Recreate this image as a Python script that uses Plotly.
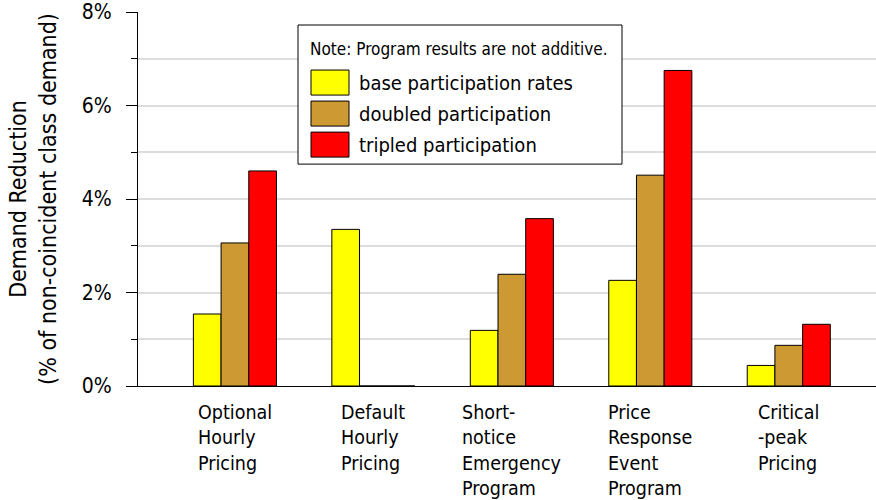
import plotly.graph_objects as go

categories = ["Optional<br>Hourly<br>Pricing", "Default<br>Hourly<br>Pricing",
              "Short-<br>notice<br>Emergency<br>Program", "Price<br>Response<br>Event<br>Program",
              "Critical<br>-peak<br>Pricing"]
base = [0.0154, 0.0335, 0.0119, 0.0226, 0.0044]
doubled = [0.0306, 0.0, 0.0239, 0.0451, 0.0087]
tripled = [0.0460, 0.0, 0.0358, 0.0675, 0.0132]
series_names = ["base participation rates", "doubled participation", "tripled participation"]
series_colors = ["#ffff00", "#cc9933", "#ff0000"]
y_ticks = [0, 0.02, 0.04, 0.06, 0.08]
note_text = "Note: Program results are not additive."

FONT = "'DejaVu Sans Condensed', 'DejaVu Sans', sans-serif"
W, H = 876, 500
# plot box in page pixels (body margin removed below)
PL, PR, PT, PB = 138, 876, 12, 385.7
ML, MT = PL, PT
MR = W - PR
MB = H - PB
PW, PH = PR - PL, PB - PT


def px(x):
    return (x - PL) / PW


def py(y):
    return (PB - y) / PH


x_idx = list(range(len(categories)))
fig = go.Figure()
for name, vals, col in zip(series_names, [base, doubled, tripled], series_colors):
    fig.add_trace(go.Bar(x=x_idx, y=vals, name=name, showlegend=False,
                         marker=dict(color=col, line=dict(color="black", width=1))))

# category labels (left-aligned lines, block centred on the category)
for i, c in enumerate(categories):
    fig.add_annotation(x=i, xref="x", y=0, yref="paper", yshift=-13, text=c,
                       showarrow=False, align="left", xanchor="center", yanchor="top",
                       font=dict(size=19.5, color="black", family=FONT))

# custom legend box
fig.add_shape(type="rect", xref="paper", yref="paper",
              x0=px(298), x1=px(622), y0=py(164), y1=py(25),
              line=dict(color="black", width=1), fillcolor="white", layer="above")
fig.add_annotation(xref="paper", yref="paper", x=px(308), y=py(49), text=note_text,
                   showarrow=False, xanchor="left", yanchor="middle",
                   font=dict(size=17, family=FONT, color="black"))
sw_tops = [70, 101, 132]
for name, col, top in zip(series_names, series_colors, sw_tops):
    fig.add_shape(type="rect", xref="paper", yref="paper",
                  x0=px(311), x1=px(349), y0=py(top + 25), y1=py(top),
                  line=dict(color="black", width=1), fillcolor=col, layer="above")
    fig.add_annotation(xref="paper", yref="paper", x=px(357), y=py(top + 12.5), text=name,
                       showarrow=False, xanchor="left", yanchor="middle",
                       font=dict(size=20, family=FONT, color="black"))

fig.update_layout(
    width=W, height=H,
    margin=dict(l=ML, r=MR, t=MT, b=MB),
    paper_bgcolor="white", plot_bgcolor="white",
    barmode="group", bargap=0.4, bargroupgap=0,
    font=dict(family=FONT, size=20, color="black"),
    showlegend=False,
    xaxis=dict(range=[-0.70, 4.63], showticklabels=False, ticks="",
               showline=True, linecolor="black", linewidth=1, showgrid=False,
               zeroline=False, automargin=False),
    yaxis=dict(range=[0, 0.08], tickvals=y_ticks, tickformat=".0%",
               ticks="outside", ticklen=11, tickcolor="black",
               ticklabelstandoff=10,
               showline=True, linecolor="black", linewidth=1,
               showgrid=True, gridcolor="#dddddd", gridwidth=1.5,
               minor=dict(dtick=0.01, ticks="outside", ticklen=6, tickcolor="black",
                          showgrid=True, gridcolor="#dddddd", gridwidth=1.5),
               zeroline=False, automargin=False,
               tickfont=dict(size=21, family=FONT),
               title=dict(text="Demand Reduction<br>(% of non-coincident class demand)",
                          font=dict(size=23, family=FONT), standoff=18)),
)

fig.write_html("out.html", config={"displayModeBar": False},
               post_script="document.body.style.margin='0px';")
